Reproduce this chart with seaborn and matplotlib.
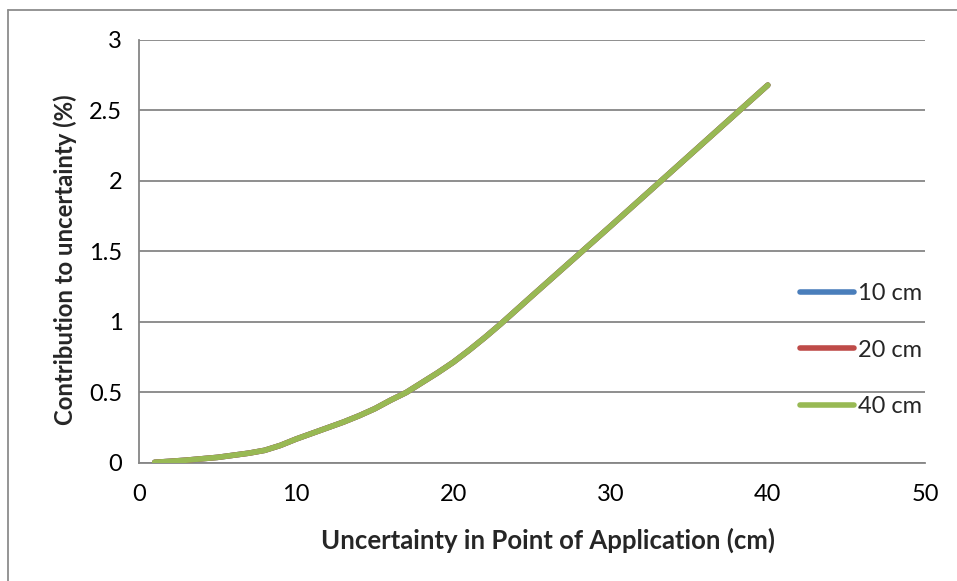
import matplotlib
matplotlib.use("Agg")
import matplotlib.pyplot as plt
from matplotlib.lines import Line2D
import seaborn as sns
import pandas as pd

# Uncertainty in point of application (cm) and its contribution (%)
offset_cm = [1, 2, 3, 4, 5, 6, 7, 8, 9, 10, 11, 12, 13, 14, 15, 16, 17, 18, 19, 20,
             21, 22, 23, 24, 25, 30, 35, 40]
contrib_10cm = [0.005, 0.012, 0.020, 0.030, 0.040, 0.055, 0.070, 0.090, 0.125, 0.170,
                0.210, 0.250, 0.290, 0.335, 0.385, 0.445, 0.500, 0.570, 0.640, 0.715,
                0.800, 0.890, 0.985, 1.085, 1.185, 1.680, 2.180, 2.680]
contrib_20cm = [0.005, 0.012, 0.020, 0.030, 0.040, 0.055, 0.070, 0.090, 0.125, 0.170,
                0.210, 0.250, 0.290, 0.335, 0.385, 0.445, 0.500, 0.570, 0.640, 0.715,
                0.800, 0.890, 0.985, 1.085, 1.185, 1.680, 2.180, 2.680]
contrib_40cm = [0.005, 0.012, 0.020, 0.030, 0.040, 0.055, 0.070, 0.090, 0.125, 0.170,
                0.210, 0.250, 0.290, 0.335, 0.385, 0.445, 0.500, 0.570, 0.640, 0.715,
                0.800, 0.890, 0.985, 1.085, 1.185, 1.680, 2.180, 2.680]
series_names = ["10 cm", "20 cm", "40 cm"]
series_colors = ["#4A7EBB", "#BE4B48", "#98B954"]
x_ticks = [0, 10, 20, 30, 40, 50]
y_ticks = [0, 0.5, 1, 1.5, 2, 2.5, 3]
y_tick_labels = ["0", "0.5", "1", "1.5", "2", "2.5", "3"]

df = pd.concat([
    pd.DataFrame({"offset": offset_cm, "contrib": vals, "series": name})
    for name, vals in zip(series_names, [contrib_10cm, contrib_20cm, contrib_40cm])
])

sns.set_style("white")
plt.rcParams["font.family"] = ["Lato", "DejaVu Sans"]

fig = plt.figure(figsize=(9.57, 5.81), dpi=100)
ax = fig.add_axes([0.1452, 0.2031, 0.8214, 0.7281])

sns.lineplot(data=df, x="offset", y="contrib", hue="series",
             palette=dict(zip(series_names, series_colors)),
             linewidth=4, solid_capstyle="round", solid_joinstyle="round",
             legend=False, ax=ax, zorder=3)

ax.set_xlim(0, 50)
ax.set_ylim(0, 3)
ax.set_xticks(x_ticks)
ax.set_yticks(y_ticks)
ax.set_yticklabels(y_tick_labels)

grid_col = "#868686"
ax.yaxis.grid(True, color=grid_col, linewidth=1.3)
ax.xaxis.grid(False)
for side in ["top", "right"]:
    ax.spines[side].set_visible(False)
for side in ["left", "bottom"]:
    ax.spines[side].set_color(grid_col)
    ax.spines[side].set_linewidth(1.3)
ax.tick_params(axis="both", direction="out", length=5, width=1.3,
               color=grid_col, labelsize=17, labelcolor="black")
ax.tick_params(axis="y", pad=7)
ax.tick_params(axis="x", pad=10)

ax.set_xlabel("Uncertainty in Point of Application (cm)", fontsize=18.5,
              fontweight="bold")
ax.xaxis.set_label_coords(0.52, -0.152)
ax.set_ylabel("Contribution to uncertainty (%)", fontsize=17.2,
              fontweight="bold")
ax.yaxis.set_label_coords(-0.079, 0.48)

handles = [Line2D([0], [0], color=c, linewidth=4, solid_capstyle="round")
           for c in series_colors]
leg = ax.legend(handles, series_names, loc="center left",
                bbox_to_anchor=(0.841, 0.267), frameon=False, fontsize=17,
                handlelength=2.3, handletextpad=0.15, labelspacing=1.5,
                borderpad=0, borderaxespad=0)

# Chart area border (top and left edges)
fig.add_artist(Line2D([8 / 957, 8 / 957], [0, 1 - 10 / 581],
                      transform=fig.transFigure, color="#8C8C8C", linewidth=1.3))
fig.add_artist(Line2D([8 / 957, 1], [1 - 10 / 581, 1 - 10 / 581],
                      transform=fig.transFigure, color="#8C8C8C", linewidth=1.3))

fig.savefig("out.png", dpi=100)
